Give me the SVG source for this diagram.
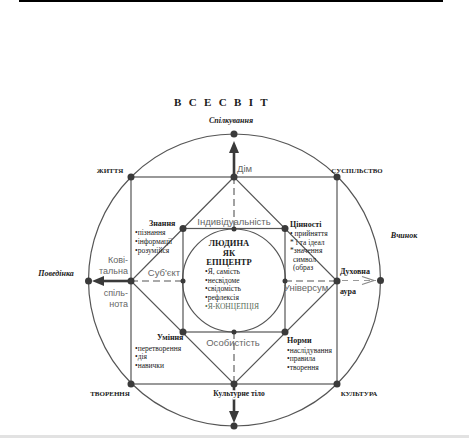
<svg xmlns="http://www.w3.org/2000/svg" width="469" height="438" viewBox="0 0 469 438">
<style>
.ln{stroke:#555;stroke-width:1.2;fill:none}
.dash{stroke:#555;stroke-width:1.1;fill:none;stroke-dasharray:7 4}
.thick{stroke:#3a3a3a;stroke-width:2.6;fill:none}
.dot{fill:#3a3a3a}
.head{fill:#3a3a3a}
.ser{font-family:"Liberation Serif","Times New Roman",serif;fill:#1a1a1a}
.b{font-weight:bold}
.it{font-style:italic;font-weight:bold}
.sans{font-family:"Liberation Sans",Arial,sans-serif;fill:#666}
.li{font-family:"Liberation Serif","Times New Roman",serif;fill:#222;font-size:7.5px}
.halo{paint-order:stroke;stroke:#fff;stroke-width:3px;stroke-linejoin:round}
</style>
<rect width="469" height="438" fill="#fff"/>
<line x1="19" y1="1" x2="443" y2="1" stroke="#000" stroke-width="2"/>
<rect x="0" y="435" width="469" height="3" fill="#e2e2e2"/>

<g id="connectors">
  <circle class="ln" cx="234.5" cy="280" r="146"/>
  <rect class="ln" x="131" y="177" width="206" height="207"/>
  <polygon class="ln" points="234,177 131,281 234,384 337,281"/>
  <rect class="ln" x="183" y="228.5" width="102" height="103.5"/>
  <circle class="ln" cx="234" cy="280.5" r="51.5"/>
  <line class="dash" x1="234" y1="177" x2="234" y2="229"/>
  <line class="dash" x1="234" y1="332" x2="234" y2="384"/>
  <line class="dash" x1="131" y1="281" x2="183" y2="281"/>
  <line class="dash" x1="285" y1="281" x2="337" y2="281"/>
  <line class="thick" x1="234" y1="177" x2="234" y2="152"/>
  <polygon class="head" points="234,141 229,153 239,153"/>
  <line class="thick" x1="234" y1="384" x2="234" y2="412"/>
  <polygon class="head" points="234,423 229,411 239,411"/>
  <line class="thick" x1="131" y1="281" x2="103" y2="281"/>
  <polygon class="head" points="92,281 104,276 104,286"/>
  <line x1="342" y1="280.5" x2="376" y2="280.5" stroke="#999" stroke-width="1" stroke-dasharray="6 5"/>
  <polyline points="362,276.5 374,280.5 362,284.5" fill="none" stroke="#888" stroke-width="1.2"/>
</g>

<g id="title"><text class="ser b" x="174" y="106" font-size="11" letter-spacing="2.3">В С Е С В І Т</text></g>

<g id="spilkuvannia"><circle class="dot" cx="234" cy="134" r="3.5"/><text class="ser it" x="231" y="123" font-size="8" text-anchor="middle">Спілкування</text></g>
<g id="povedinka"><circle class="dot" cx="88.5" cy="281" r="3.5"/><text class="ser it" x="56" y="276" font-size="8" text-anchor="middle">Поведінка</text></g>
<g id="vchynok"><circle class="dot" cx="380.5" cy="280.5" r="3.5"/><text class="ser it" x="404" y="238" font-size="8" text-anchor="middle">Вчинок</text></g>
<g id="bottom"><circle class="dot" cx="234" cy="426" r="3.5"/></g>

<g id="zhyttia"><circle class="dot" cx="131" cy="177" r="3.5"/><text class="ser b" x="110" y="173" font-size="7" text-anchor="middle">ЖИТТЯ</text></g>
<g id="suspilstvo"><circle class="dot" cx="337" cy="177" r="3.5"/><text class="ser b" x="357" y="173" font-size="6.8" text-anchor="middle">СУСПІЛЬСТВО</text></g>
<g id="tvorennia"><circle class="dot" cx="131" cy="384" r="3.5"/><text class="ser b" x="110" y="396" font-size="7" text-anchor="middle">ТВОРЕННЯ</text></g>
<g id="kultura"><circle class="dot" cx="337" cy="384" r="3.5"/><text class="ser b" x="359" y="396" font-size="7" text-anchor="middle">КУЛЬТУРА</text></g>

<g id="dim"><circle class="dot" cx="234" cy="177" r="3.5"/><text class="sans" x="237" y="172" font-size="9.5">Дім</text></g>
<g id="kulturne-tilo"><circle class="dot" cx="234" cy="384" r="3.5"/><text class="ser b halo" x="239" y="396" font-size="7.5" text-anchor="middle">Культурне тіло</text></g>
<g id="kovitalna"><circle class="dot" cx="131" cy="281" r="3.5"/>
  <text class="sans" font-size="9" text-anchor="end"><tspan x="128" y="263">Ковi-</tspan><tspan x="128" y="274">тальна</tspan><tspan x="128" y="296">спіль-</tspan><tspan x="128" y="307">нота</tspan></text></g>
<g id="dukhovna-aura"><circle class="dot" cx="337" cy="281" r="3.5"/>
  <text class="ser b" font-size="8"><tspan x="340" y="274">Духовна</tspan><tspan x="340" y="294">аура</tspan></text></g>

<g id="znannia"><circle class="dot" cx="183" cy="228.5" r="3.5"/>
  <text class="ser b" x="149" y="226" font-size="8">Знання</text>
  <text class="li"><tspan x="135" y="235">•пізнання</tspan><tspan x="135" y="244">•інформації</tspan><tspan x="135" y="252.5">•розумійся</tspan></text></g>
<g id="tsinnosti"><circle class="dot" cx="285" cy="228.5" r="3.5"/>
  <text class="ser b" x="290" y="227" font-size="8">Цінності</text>
  <text class="li"><tspan x="290" y="236">• прийняття</tspan><tspan x="290" y="244.5">*    і та ідеал</tspan><tspan x="290" y="253">*значення</tspan><tspan x="293" y="261.5">символ</tspan><tspan x="293" y="270">(образ</tspan></text></g>
<g id="uminnia"><circle class="dot" cx="183" cy="332" r="3.5"/>
  <text class="ser b" x="157" y="340" font-size="8">Уміння</text>
  <text class="li"><tspan x="135" y="350.5">•перетворення</tspan><tspan x="135" y="359">•дія</tspan><tspan x="135" y="367.5">•навички</tspan></text></g>
<g id="normy"><circle class="dot" cx="285" cy="332" r="3.5"/>
  <text class="ser b" x="287" y="343" font-size="8">Норми</text>
  <text class="li"><tspan x="287" y="352.5">•наслідування</tspan><tspan x="287" y="361">•правила</tspan><tspan x="287" y="369.5">•творення</tspan></text></g>

<g id="individualnist"><circle class="dot" cx="234" cy="229" r="2.5"/><text class="sans" x="234" y="225" font-size="9.5" text-anchor="middle">Індивідуальність</text></g>
<g id="osobystist"><circle class="dot" cx="234" cy="332" r="2.5"/><text class="sans" x="233" y="346" font-size="9.5" text-anchor="middle">Особистість</text></g>
<g id="subiekt"><circle class="dot" cx="183" cy="281" r="2.5"/><text class="sans" x="164" y="276" font-size="9.5" text-anchor="middle">Суб'єкт</text></g>
<g id="universum"><circle class="dot" cx="285" cy="281" r="2.5"/><text class="sans" x="306" y="290.5" font-size="9.5" text-anchor="middle">Універсум</text></g>

<g id="center">
  <text class="ser b" font-size="8.5" text-anchor="middle"><tspan x="229" y="246">ЛЮДИНА</tspan><tspan x="229" y="255.5">ЯК</tspan><tspan x="229" y="265">ЕПІЦЕНТР</tspan></text>
  <text class="li" font-size="7"><tspan x="205" y="274">•Я,    самість</tspan><tspan x="205" y="283">•несвідоме</tspan><tspan x="205" y="291">•свідомість</tspan><tspan x="205" y="300">•рефлексія</tspan><tspan x="205" y="308.5" fill="#556b55">•Я-КОНЦЕПЦІЯ</tspan></text>
</g>
</svg>
